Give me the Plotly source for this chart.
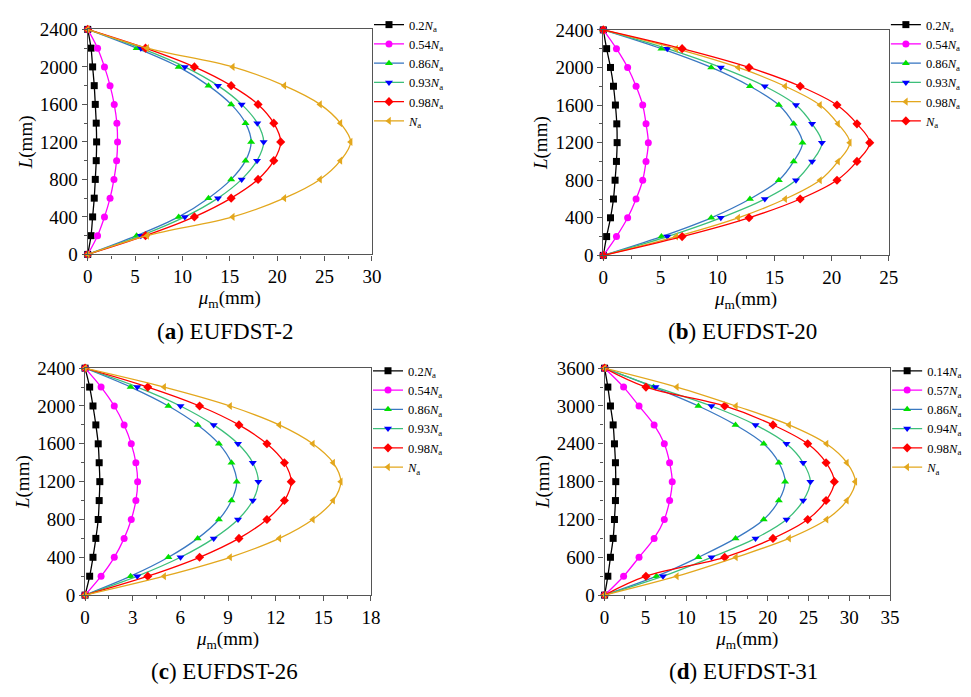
import plotly.graph_objects as go

FONT = "Liberation Serif"

# ---------------- data ----------------
L_a = [0, 200, 400, 600, 800, 1000, 1200, 1400, 1600, 1800, 2000, 2200, 2400]
L_d = [0, 300, 600, 900, 1200, 1500, 1800, 2100, 2400, 2700, 3000, 3300, 3600]

# (a) EUFDST-2
a_020 = [0, 0.35, 0.52, 0.69, 0.80, 0.90, 0.94, 0.90, 0.80, 0.69, 0.52, 0.35, 0]
a_054 = [0, 1.04, 1.77, 2.36, 2.77, 3.05, 3.15, 3.08, 2.80, 2.36, 1.77, 1.04, 0]
a_086 = [0, 5.16, 9.60, 12.75, 15.14, 16.66, 17.25, 16.66, 15.14, 12.75, 9.60, 5.16, 0]
a_093 = [0, 5.61, 10.25, 13.75, 16.25, 17.87, 18.57, 17.90, 16.25, 13.75, 10.25, 5.61, 0]
a_098 = [0, 6.10, 11.26, 15.14, 17.98, 19.64, 20.37, 19.64, 17.98, 15.14, 11.26, 6.10, 0]
a_100 = [0, 6.27, 15.31, 20.75, 24.52, 26.67, 27.75, 26.67, 24.52, 20.75, 15.31, 6.27, 0]

# (b) EUFDST-20
b_020 = [0, 0.29, 0.63, 0.89, 1.03, 1.15, 1.21, 1.18, 1.06, 0.89, 0.63, 0.29, 0]
b_054 = [0, 1.15, 2.13, 2.87, 3.45, 3.74, 3.94, 3.74, 3.45, 2.87, 2.13, 1.15, 0]
b_086 = [0, 5.09, 9.45, 12.84, 15.37, 16.67, 17.44, 16.67, 15.37, 12.84, 9.45, 5.09, 0]
b_093 = [0, 5.60, 10.29, 14.14, 16.87, 18.28, 19.14, 18.28, 16.87, 14.14, 10.29, 5.60, 0]
b_098 = [0, 6.38, 11.81, 15.92, 18.97, 20.55, 21.58, 20.55, 18.97, 15.92, 11.81, 6.38, 0]
b_100 = [0, 6.90, 12.76, 17.24, 20.46, 22.21, 23.33, 22.21, 20.46, 17.24, 12.76, 6.90, 0]

# (c) EUFDST-26
c_020 = [0, 0.29, 0.50, 0.68, 0.83, 0.89, 0.93, 0.89, 0.83, 0.68, 0.50, 0.29, 0]
c_054 = [0, 1.01, 1.84, 2.46, 2.91, 3.20, 3.31, 3.20, 2.91, 2.46, 1.84, 1.01, 0]
c_086 = [0, 2.87, 5.25, 7.09, 8.43, 9.22, 9.55, 9.22, 8.43, 7.09, 5.25, 2.87, 0]
c_093 = [0, 3.29, 6.01, 8.10, 9.63, 10.56, 10.91, 10.56, 9.63, 8.10, 6.01, 3.29, 0]
c_098 = [0, 3.95, 7.21, 9.69, 11.45, 12.55, 12.98, 12.55, 11.45, 9.69, 7.21, 3.95, 0]
c_100 = [0, 4.98, 9.13, 12.23, 14.34, 15.62, 16.10, 15.62, 14.34, 12.23, 9.13, 4.98, 0]

# (d) EUFDST-31
d_014 = [0, 0.40, 0.72, 1.05, 1.21, 1.33, 1.37, 1.33, 1.21, 1.05, 0.72, 0.40, 0]
d_057 = [0, 2.33, 4.22, 6.07, 7.32, 7.97, 8.29, 7.97, 7.32, 6.07, 4.22, 2.33, 0]
d_086 = [0, 6.36, 11.50, 16.05, 19.51, 21.36, 22.13, 21.36, 19.51, 16.05, 11.50, 6.00, 0]
d_094 = [0, 7.16, 13.10, 18.50, 22.30, 24.34, 25.22, 24.34, 22.30, 18.50, 13.10, 6.24, 0]
d_098 = [0, 5.07, 14.72, 20.64, 24.90, 27.15, 28.16, 27.15, 24.90, 20.64, 14.72, 5.07, 0]
d_100 = [0, 8.85, 16.09, 22.61, 27.20, 29.69, 30.73, 29.69, 27.20, 22.61, 16.09, 8.85, 0]

labels_abc = ["0.2", "0.54", "0.86", "0.93", "0.98", ""]
labels_d = ["0.14", "0.57", "0.86", "0.94", "0.98", ""]
captions = ["(<b>a</b>) EUFDST-2", "(<b>b</b>) EUFDST-20", "(<b>c</b>) EUFDST-26", "(<b>d</b>) EUFDST-31"]

# ---------------- styles ----------------
BLACK = "#000000"
MAG = "#FF00FF"
GRN = "#00E000"
BLU = "#0000FF"
RED = "#FF0000"
ORA = "#E3A71D"
LBLUE = "#3A78C2"
LGRN = "#3CBF7A"

# (line colour, marker colour, symbol)
sty_std = [
    (BLACK, BLACK, "square"),
    (MAG, MAG, "circle"),
    (LBLUE, GRN, "triangle-up"),
    (LGRN, BLU, "triangle-down"),
    (RED, RED, "diamond"),
    (ORA, ORA, "triangle-left"),
]
sty_b = sty_std[:4] + [(ORA, ORA, "triangle-left"), (RED, RED, "diamond")]

panels = [
    dict(L=L_a, ser=[a_020, a_054, a_086, a_093, a_098, a_100], lab=labels_abc, sty=sty_std,
         xr=[0, 30], xd=5, yr=[0, 2400], yd=400,
         xdom=[84/971, 372.7/971], ydom=[1-252/697, 1-20/697], legtop=0),
    dict(L=L_a, ser=[b_020, b_054, b_086, b_093, b_098, b_100], lab=labels_abc, sty=sty_b,
         xr=[0, 25], xd=5, yr=[0, 2400], yd=400,
         xdom=[607.7/971, 897.7/971], ydom=[1-253/697, 1-20.5/697], legtop=0),
    dict(L=L_a, ser=[c_020, c_054, c_086, c_093, c_098, c_100], lab=labels_abc, sty=sty_std,
         xr=[0, 18], xd=3, yr=[0, 2400], yd=400,
         xdom=[81.3/971, 371.7/971], ydom=[1-603.3/697, 1-369.3/697], legtop=357),
    dict(L=L_d, ser=[d_014, d_057, d_086, d_094, d_098, d_100], lab=labels_d, sty=sty_std,
         xr=[0, 35], xd=5, yr=[0, 3600], yd=600,
         xdom=[609/971, 899/971], ydom=[1-603.3/697, 1-369.3/697], legtop=357),
]

fig = go.Figure()
layout = dict(
    width=971, height=697, margin=dict(l=0, r=0, t=0, b=0),
    paper_bgcolor="white", plot_bgcolor="white",
    font=dict(family=FONT, color="black", size=19),
    annotations=[],
)

for i, p in enumerate(panels):
    n = "" if i == 0 else str(i + 1)
    xa, ya = "x" + n, "y" + n
    lg = "legend" + n
    for k, (vals, lab, (lc, mc, sym)) in enumerate(zip(p["ser"], p["lab"], p["sty"])):
        fig.add_trace(go.Scatter(
            x=vals, y=p["L"], xaxis=xa, yaxis=ya, legend=lg,
            mode="lines+markers", name=f"{lab}<i>N</i><sub>a</sub>",
            line=dict(color=lc, width=1.3, shape="spline", smoothing=1.0),
            marker=dict(color=mc, symbol=sym, size=7, line=dict(width=0)),
            cliponaxis=False,
        ))
    axcommon = dict(showline=True, linecolor="#555555", linewidth=1.2, mirror=True,
                    ticks="outside", ticklen=5, tickwidth=1, tickcolor="#555555",
                    showgrid=False, zeroline=False,
                    tickfont=dict(family=FONT, size=19, color="black"))
    layout["xaxis" + n] = dict(axcommon, domain=p["xdom"], range=p["xr"], dtick=p["xd"], tick0=0,
                               anchor=ya,
                               minor=dict(ticks="outside", ticklen=3, dtick=p["xd"] / 2,
                                          tickcolor="#555555", showgrid=False),
                               title=dict(text="<i>μ</i><sub>m</sub>(mm)", standoff=0,
                                          font=dict(family=FONT, size=19)))
    layout["yaxis" + n] = dict(axcommon, domain=p["ydom"], range=p["yr"], dtick=p["yd"], tick0=0,
                               anchor=xa,
                               minor=dict(ticks="outside", ticklen=3, dtick=p["yd"] / 2,
                                          tickcolor="#555555", showgrid=False),
                               title=dict(text="<i>L</i>(mm)", standoff=2,
                                          font=dict(family=FONT, size=19)))
    layout[lg] = dict(x=p["xdom"][1] - 3/971, y=1 - p["legtop"]/697, xanchor="left", yanchor="top",
                      bgcolor="rgba(0,0,0,0)", borderwidth=0,
                      font=dict(family=FONT, size=12.5, color="black"),
                      tracegroupgap=0, itemwidth=30)
    cx = (p["xdom"][0] + p["xdom"][1]) / 2 * 971
    cy = 331 if i < 2 else 682
    layout["annotations"].append(dict(
        text=captions[i], x=(cx - 4) / 971, y=1 - cy / 697,
        xref="paper", yref="paper", showarrow=False, xanchor="center", yanchor="middle",
        font=dict(family=FONT, size=23, color="black")))

fig.update_layout(**layout)
fig.write_html("out.html")
